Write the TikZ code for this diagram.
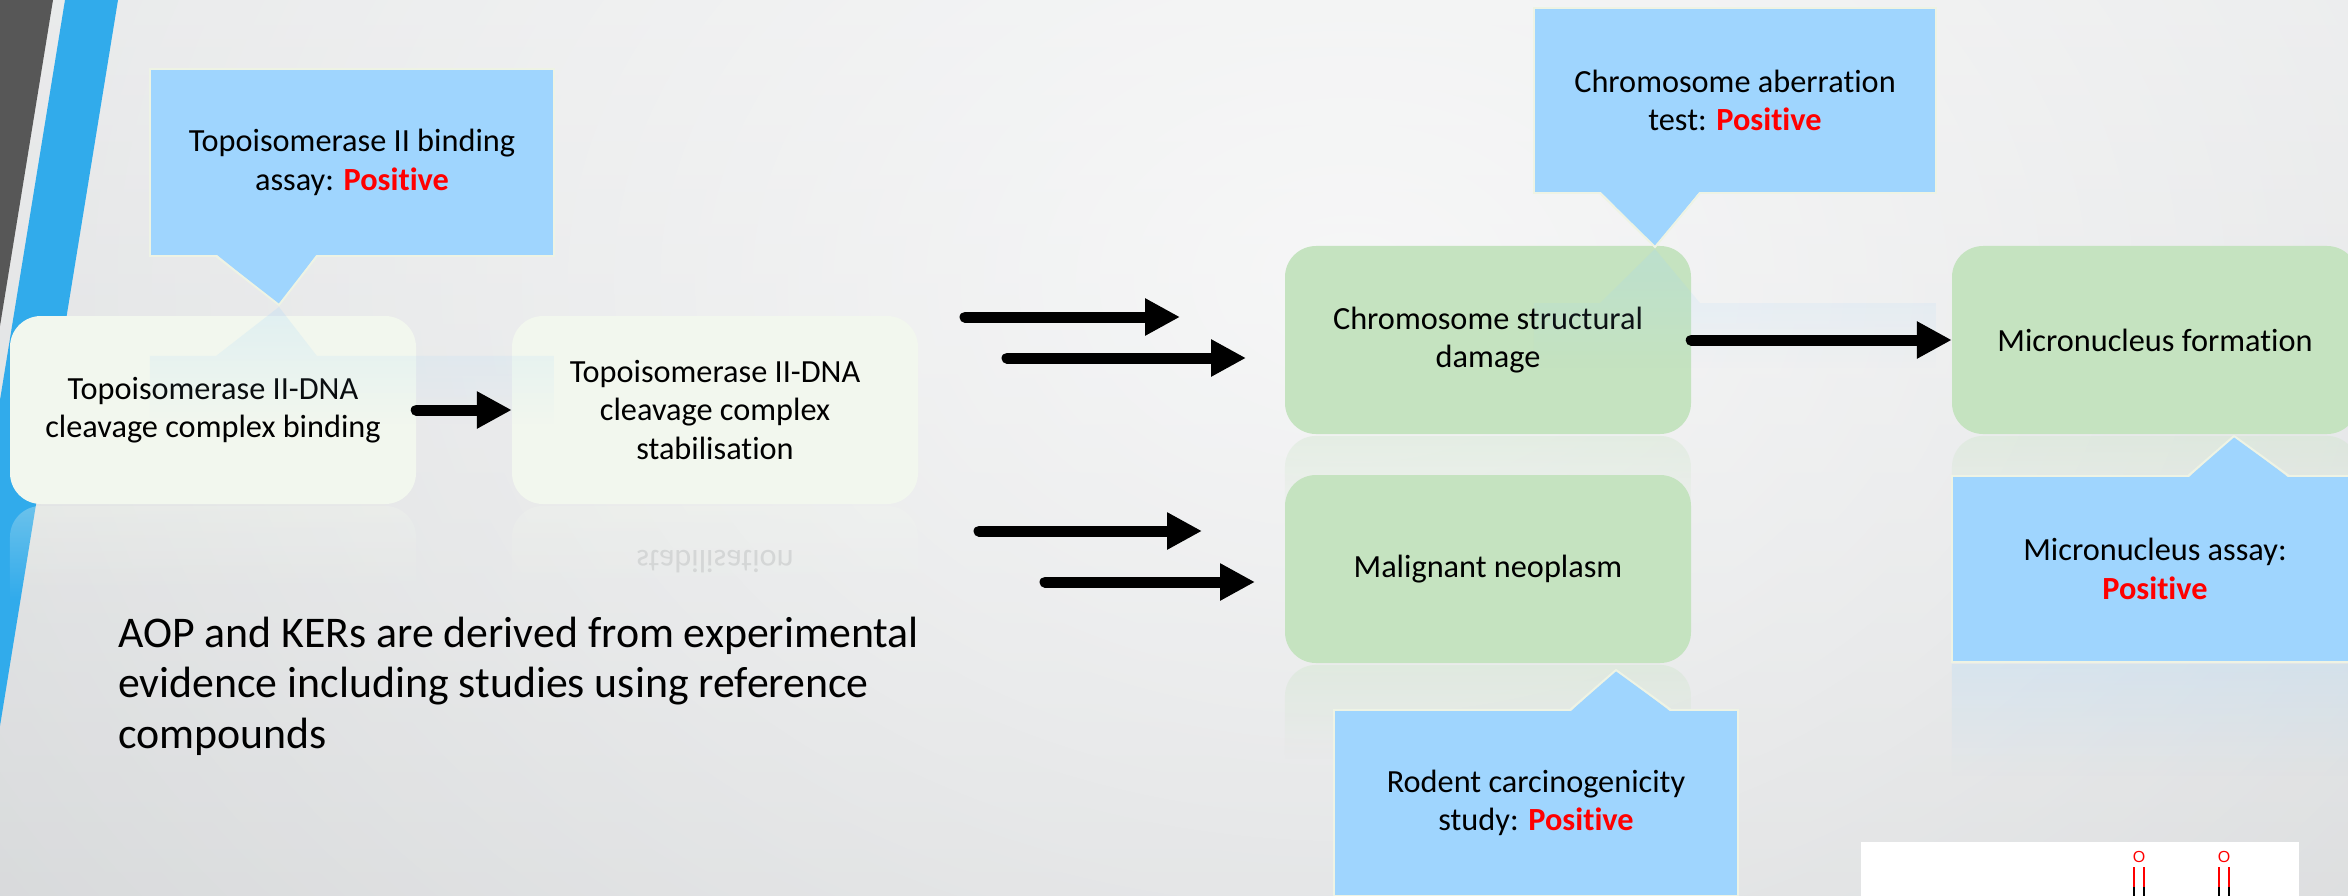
\documentclass[tikz,border=0pt]{standalone}
\usepackage{fontspec}
\setmainfont{Carlito}[Ligatures=NoCommon]
\newfontfamily\atomfont{Liberation Sans}
\usetikzlibrary{arrows.meta,fadings,calc}

\definecolor{bgtop}{HTML}{EBECED}
\definecolor{bgbot}{HTML}{C5C8CA}
\definecolor{stripgrey}{HTML}{575757}
\definecolor{stripblue}{HTML}{31ABEB}
\definecolor{calloutblue}{HTML}{9FD5FE}
\definecolor{boxgreen}{HTML}{C5E3C0}
\definecolor{boxpale}{HTML}{F2F7EE}
\definecolor{rimcol}{HTML}{EEF3E4}
\definecolor{posred}{HTML}{FF0000}
\definecolor{mirrortext}{HTML}{D4D6D6}

\pgfdeclareverticalshading{bgvert}{100bp}{color(0bp)=(bgbot); color(100bp)=(bgtop)}

\tikzfading[name=reflfade, top color=transparent!70, bottom color=transparent!100, middle color=transparent!100]
\tikzfading[name=calreflfade, top color=transparent!78, bottom color=transparent!100, middle color=transparent!100]
\tikzfading[name=glowfade, inner color=transparent!25, outer color=transparent!100]

\newcommand\posword{\textcolor{posred}{\textbf{Positive}}}

\begin{document}
\begin{tikzpicture}[x=1pt,y=-1pt,
  keybox/.style={font=\fontsize{32.3}{38.5}\selectfont, align=center, inner sep=0pt,
    minimum width=406pt, minimum height=188pt, rounded corners=31pt},
  palebox/.style={keybox, fill=boxpale},
  greenbox/.style={keybox, fill=boxgreen},
  calloutbox/.style={font=\fontsize{32.3}{38.5}\selectfont, align=center, inner sep=0pt,
    fill=calloutblue, draw=rimcol, line width=2pt},
  pointerfill/.style={fill=calloutblue},
  pointerrim/.style={draw=rimcol, line width=2pt},
  boxrefl/.style={path fading=reflfade, rounded corners=31pt},
  callrefl/.style={fill=calloutblue, path fading=calreflfade},
  bigarrow/.style={line width=11pt, line cap=round, -{Triangle[length=35pt,width=35pt]}},
  atom/.style={font=\atomfont\fontsize{16}{16}\selectfont, text=posred, inner sep=0pt},
  bond/.style={line width=1.4pt}
]
\useasboundingbox (0,0) rectangle (2348,896);
\clip (0,0) rectangle (2348,896);

% background
\shade[shading=bgvert] (0,0) rectangle (2348,896);
\fill[white, path fading=glowfade] (-850,-1320) rectangle (3550,1880);

% left decoration
\fill[stripgrey] (0,0) -- (53,0) -- (0,326) -- cycle;
\fill[stripblue] (65,0) -- (118,0) -- (0,726) -- (0,400) -- cycle;

% reflections of the boxes
\fill[boxpale, boxrefl] (10,506) rectangle (416,694);
\fill[boxpale, boxrefl] (512,506) rectangle (918,694);
\fill[boxgreen, boxrefl] (1285,436) rectangle (1691,624);
\fill[boxgreen, boxrefl] (1952,436) rectangle (2358,624);
\fill[boxgreen, boxrefl] (1285,665) rectangle (1691,853);
\begin{scope}[shift={(715,550)}, yscale=-1]
  \node[transform shape, anchor=base, inner sep=0pt, text=mirrortext,
        font=\fontsize{32.3}{38.5}\selectfont] (mirr) at (0,0) {stabilisation};
\end{scope}

% key event boxes
\node[palebox] (A) at (213,410) {Topoisomerase II-DNA\\cleavage complex binding};
\node[palebox] (B) at (715,410) {Topoisomerase II-DNA\\cleavage complex\\stabilisation};
\node[greenbox] (C) at (1488,340) {Chromosome structural\\damage};
\node[greenbox] (D) at (2155,340) {Micronucleus formation};
\node[greenbox] (E) at (1488,569) {Malignant neoplasm};

% reflections of the callouts
\fill[callrefl] (150,356) -- (216,356) -- (279,307) -- (317,356) -- (554,356)
  -- (554,543) -- (150,543) -- cycle;
\fill[callrefl] (1534,303) -- (1600,303) -- (1655,249) -- (1700,303) -- (1936,303)
  -- (1936,488) -- (1534,488) -- cycle;
\fill[callrefl] (1952,664) -- (2358,664) -- (2358,850) -- (2289,850) -- (2234,890)
  -- (2188,850) -- (1952,850) -- cycle;

% callouts
\node[calloutbox, minimum width=404pt, minimum height=187pt] (c1) at (352,162.5)
  {Topoisomerase II binding\\assay: \posword};
\fill[pointerfill] (216,254) -- (279,305) -- (317,254) -- cycle;
\draw[pointerrim] (216,256) -- (279,305) -- (317,256);

\node[calloutbox, minimum width=402pt, minimum height=185pt] (c2) at (1735,100.5)
  {Chromosome aberration\\test: \posword};
\fill[pointerfill] (1600,191) -- (1655,247) -- (1700,191) -- cycle;
\draw[pointerrim] (1600,193) -- (1655,247) -- (1700,193);

\node[calloutbox, minimum width=406pt, minimum height=186pt] (c3) at (2155,569)
  {Micronucleus assay:\\\posword};
\fill[pointerfill] (2188,478) -- (2234,436) -- (2289,478) -- cycle;
\draw[pointerrim] (2188,476) -- (2234,436) -- (2289,476);

\node[calloutbox, minimum width=404pt, minimum height=186pt] (c4) at (1536,803)
  {Rodent carcinogenicity\\study: \posword};
\fill[pointerfill] (1570,712) -- (1616,670) -- (1671,712) -- cycle;
\draw[pointerrim] (1570,710) -- (1616,670) -- (1671,710);

% arrows
\coordinate (a1s) at (965,317);  \coordinate (a1e) at (1180,317);
\coordinate (a2s) at (1007,358); \coordinate (a2e) at (1246,358);
\coordinate (a3s) at (979,531);  \coordinate (a3e) at (1202,531);
\coordinate (a4s) at (1045,582); \coordinate (a4e) at (1255,582);
\draw[bigarrow] (A.east) -- (B.west);
\draw[bigarrow] (a1s) -- (a1e);
\draw[bigarrow] (a2s) -- (a2e);
\draw[bigarrow] (a3s) -- (a3e);
\draw[bigarrow] (a4s) -- (a4e);
\draw[bigarrow] (C.east) -- (D.west);

% note
\node[font=\fontsize{43.8}{50.5}\selectfont, align=left, anchor=base west, inner sep=0pt]
  (note) at (118,748)
  {AOP and KERs are derived from experimental\\evidence including studies using reference\\compounds};

% partial structure image
\fill[white] (1861,842) rectangle (2299,896);
\node[atom] (o1) at (2139,857) {O};
\node[atom] (o2) at (2224,857) {O};
\draw[bond, posred] (2134,867) -- (2134,887);
\draw[bond, posred] (2144,867) -- (2144,887);
\draw[bond, black] (2134,887) -- (2134,897);
\draw[bond, black] (2144,887) -- (2144,897);
\draw[bond, posred] (2219,867) -- (2219,887);
\draw[bond, posred] (2229,867) -- (2229,887);
\draw[bond, black] (2219,887) -- (2219,897);
\draw[bond, black] (2229,887) -- (2229,897);
\end{tikzpicture}
\end{document}
